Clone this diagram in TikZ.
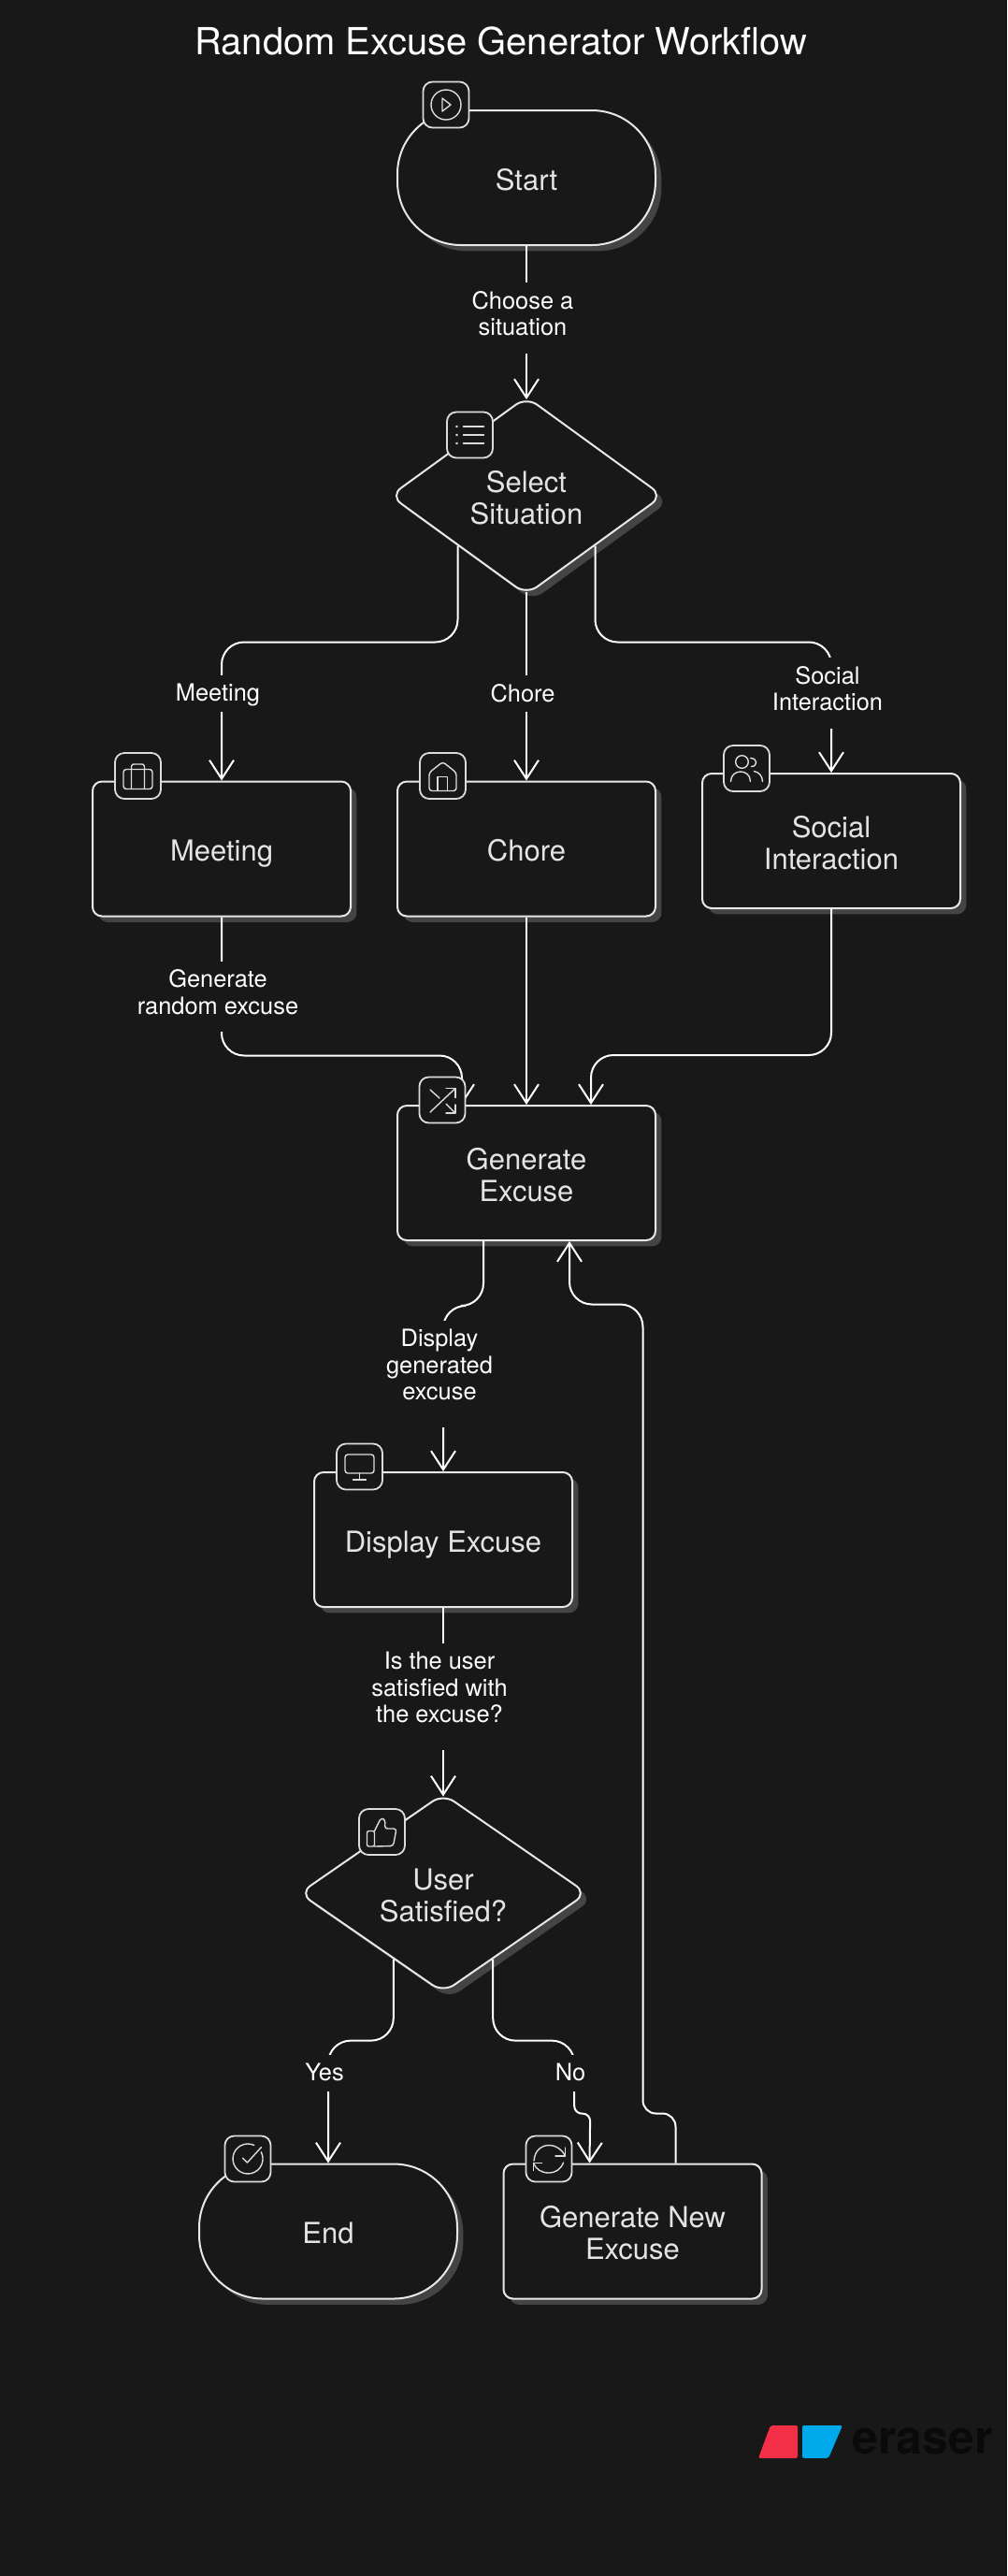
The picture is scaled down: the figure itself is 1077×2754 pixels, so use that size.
\documentclass[tikz,border=0pt]{standalone}
\usepackage{fontspec}
\setmainfont{TeX Gyre Heros}
\usetikzlibrary{arrows.meta,shapes.geometric,shadows}

\definecolor{bgdark}{HTML}{181818}
\definecolor{shadowgrey}{HTML}{444444}
\definecolor{lineoff}{HTML}{E8E8E8}
\definecolor{textoff}{HTML}{E4E4E4}
\definecolor{glyphoff}{HTML}{DCDCDC}
\definecolor{brandred}{HTML}{F22F46}
\definecolor{brandblue}{HTML}{00A9EB}
\definecolor{brandtext}{HTML}{0A0A0A}

\tikzset{
  boxshadow/.style={drop shadow={shadow xshift=3.2pt,shadow yshift=-3.2pt,fill=shadowgrey,opacity=1}},
  flowbox/.style={rectangle, draw=lineoff, line width=1pt, fill=bgdark, rounded corners=5pt, boxshadow,
    minimum width=138pt, minimum height=72pt, inner sep=0pt, align=center, text=textoff,
    text height=13pt, text depth=0pt, font=\fontsize{15.5}{17}\selectfont},
  termbox/.style={flowbox, rounded corners=34pt},
  choicebox/.style={diamond, aspect=1.38, draw=lineoff, line width=1pt, fill=bgdark, rounded corners=7pt, boxshadow,
    inner sep=0pt, align=center, text=textoff, text height=30pt, text depth=0pt, font=\fontsize{15.5}{17}\selectfont},
  twoline/.style={text height=30pt},
  iconbox/.style={rectangle, draw=glyphoff, line width=0.9pt, fill=bgdark, rounded corners=5pt,
    minimum size=24.5pt, inner sep=0pt},
  glyph/.style={draw=glyphoff, line width=0.7pt, line cap=round, line join=round},
  conn/.style={draw=white, line width=1pt, rounded corners=12pt},
  arrowconn/.style={conn, -{Straight Barb[length=10pt,width=13pt,line width=1pt]}},
  edgelbl/.style={anchor=north, fill=bgdark, inner xsep=2pt, inner ysep=4.5pt, align=center, text=white, text depth=1pt,
    font=\fontsize{12.7}{14.25}\selectfont},
}

\begin{document}
\begin{tikzpicture}[x=0.5pt, y=-0.5pt]

\useasboundingbox (0,0) rectangle (1077,2754);
\fill[bgdark] (0,0) rectangle (1077,2754);

% Title
\path (536,44) node[text=white, font=\fontsize{19.95}{24}\selectfont] (title) {Random Excuse Generator Workflow};


% Boxes
\path (563,190) node[termbox] (start) {Start};
\path (563,530) node[choicebox, minimum width=146pt, minimum height=106pt] (select) {Select\\Situation};

\path (237,907.5) node[flowbox] (meeting) {Meeting};
\path (563,907.5) node[flowbox] (chore) {Chore};
\path (889,899) node[flowbox, twoline] (social) {Social\\Interaction};

\path (563,1254) node[flowbox, twoline] (generate) {Generate\\Excuse};
\path (474,1646) node[flowbox] (display) {Display Excuse};
\path (474,2024) node[choicebox, minimum width=154pt, minimum height=106.5pt] (user) {User\\Satisfied?};

\path (351,2385.5) node[termbox] (endbox) {End};
\path (676.5,2385.5) node[flowbox, twoline] (regen) {Generate New\\Excuse};


% Connectors
\draw[arrowconn] (start.south) -- ([yshift=-2pt]select.north);

\draw[arrowconn] (select.south west) -- ++(0,103) -| (meeting.north);
\draw[arrowconn] ([yshift=2pt]select.south) -- (chore.north);
\draw[arrowconn] (select.south east) -- ++(0,103) -| (social.north);

\draw[arrowconn] (meeting.south) -- ++(0,148) -| ([xshift=-34.5pt]generate.north);
\draw[arrowconn] (chore.south) -- (generate.north);
\draw[arrowconn] (social.south) -- ++(0,156) -| ([xshift=34.5pt]generate.north);

\draw[arrowconn] ([xshift=-23pt]generate.south) -- ++(0,69) -| (display.north);
\draw[arrowconn] (display.south) -- ([yshift=-2pt]user.north);

\draw[arrowconn] (user.-127) -- ++(0,87) -| (endbox.north);
\draw[arrowconn] (user.-53) -- ++(0,87) -- ++(87,0) [rounded corners=4pt] -- ++(0,78) -- ++(17,0) -- ([xshift=-23pt]regen.north);
\draw[arrowconn, rounded corners=7pt] ([xshift=23pt]regen.north) -- ++(0,-53) -- ++(-35,0) [rounded corners=12pt] -- ++(0,-865) -| ([xshift=23pt]generate.south);


% Connector labels
\path (559,302) node[edgelbl, text depth=5pt] (lblchoose) {Choose a\\situation};
\path (233,722) node[edgelbl] (lblmeeting) {Meeting};
\path (559,722) node[edgelbl] (lblchore) {Chore};
\path (885,703) node[edgelbl, text depth=5pt] (lblsocial) {Social\\Interaction};
\path (233,1027.5) node[edgelbl, text depth=5pt] (lblrandom) {Generate\\random excuse};
\path (470,1412) node[edgelbl, text depth=10pt] (lbldisplay) {Display\\generated\\excuse};
\path (470,1757) node[edgelbl, text depth=10pt] (lblsatisfied) {Is the user\\satisfied with\\the excuse?};
\path (347,2197) node[edgelbl] (lblyes) {Yes};
\path (610,2197) node[edgelbl] (lblno) {No};


% Icons
\path (477,112) node[iconbox] (starticon) {};
\begin{scope}[shift={(starticon.center)}]
\draw[glyph] (0,0) circle [radius=8pt];
\draw[glyph] (-4,-7) -- (-4,7) -- (5,0) -- cycle;
\end{scope}

\path (502.5,465) node[iconbox] (selecticon) {};
\begin{scope}[shift={(selecticon.center)}]
\foreach \rowy in {-9,0,9} {
  \draw[glyph] (-7,\rowy) -- (15,\rowy);
  \filldraw[glyph] (-14,\rowy) circle [radius=0.3pt];
}
\end{scope}

\path (147.5,829.5) node[iconbox] (meetingicon) {};
\begin{scope}[shift={(meetingicon.center)}]
\draw[glyph, rounded corners=1.5pt] (-15.5,-7) rectangle (15.5,14);
\draw[glyph] (-7,14) -- (-7,-10) .. controls (-7,-12.5) and (-5,-12.5) .. (-4,-12.5) -- (4,-12.5) .. controls (5,-12.5) and (7,-12.5) .. (7,-10) -- (7,14);
\end{scope}

\path (473.5,829.5) node[iconbox] (choreicon) {};
\begin{scope}[shift={(choreicon.center)}]
\draw[glyph, rounded corners=1.5pt] (-14.5,-3.5) -- (0,-15) -- (14.5,-3.5) -- (14.5,16) -- (-14.5,16) -- cycle;
\draw[glyph] (-5.5,16) -- (-5.5,1) -- (5,1) -- (5,16);
\end{scope}

\path (798.5,821.5) node[iconbox] (socialicon) {};
\begin{scope}[shift={(socialicon.center)}]
\draw[glyph] (-5,-7) circle [radius=3.4pt];
\draw[glyph] (4,-11) .. controls (12,-11) and (12,-2) .. (5,-2);
\draw[glyph] (-17,14) .. controls (-17,0) and (4,0) .. (4,14);
\draw[glyph] (8,3) .. controls (13,4) and (17,8) .. (17,14);
\end{scope}

\path (473,1176) node[iconbox] (generateicon) {};
\begin{scope}[shift={(generateicon.center)}]
\draw[glyph] (-13,13) -- (14,-12.5);
\draw[glyph] (4,-12.5) -- (14,-12.5) -- (14,-2.5);
\draw[glyph] (-13,-11) -- (-3,-2);
\draw[glyph] (4,4) -- (14,14);
\draw[glyph] (4,14) -- (14,14) -- (14,5);
\end{scope}

\path (384.5,1568) node[iconbox] (displayicon) {};
\begin{scope}[shift={(displayicon.center)}]
\draw[glyph, rounded corners=1.5pt] (-15.5,-13) rectangle (15.5,7);
\draw[glyph] (0,7) -- (0,14);
\draw[glyph] (-7,14) -- (7,14);
\end{scope}

\path (408.5,1958.5) node[iconbox] (usericon) {};
\begin{scope}[shift={(usericon.center)}]
\draw[glyph, rounded corners=1pt] (-8,-1) rectangle (-16,15.5);
\draw[glyph, rounded corners=1.5pt] (-8,-1) -- (-1,-15) -- (3.5,-13) -- (3,-3.5) -- (15.5,-3.5) -- (12,15) -- (-8,15.5);
\end{scope}

\path (265,2308) node[iconbox] (endicon) {};
\begin{scope}[shift={(endicon.center)}]
\draw[glyph] (14.3,-7.3) arc [start angle=27, end angle=-295, radius=8pt];
\draw[glyph] (-5.5,-1) -- (-0.5,4) -- (14.5,-12.5);
\end{scope}

\path (587,2308) node[iconbox] (regenicon) {};
\begin{scope}[shift={(regenicon.center)}]
\draw[glyph] (-16,2) .. controls (-15,-10) and (-7,-14.5) .. (0,-14.5) .. controls (8,-14.5) and (14,-10) .. (17.5,-3);
\draw[glyph] (17.5,-12) -- (17.5,-3) -- (7,-3);
\draw[glyph] (15.5,4) .. controls (13,11) and (7,15) .. (0,15) .. controls (-8,15) and (-14,11) .. (-16.5,4.5);
\draw[glyph] (-16.5,12.5) -- (-16.5,4.5) -- (-7.5,4.5);
\end{scope}


% Brand mark
\fill[brandred, rounded corners=1pt] (824,2593) -- (853,2593) -- (853,2628) -- (811,2628) -- cycle;
\fill[brandblue, rounded corners=1pt] (858,2593) -- (901,2593) -- (886,2628) -- (858,2628) -- cycle;
\path (911,2610) node[anchor=west, inner sep=0pt, text=brandtext, font=\fontsize{25}{28}\selectfont\bfseries] (brand) {eraser};

\end{tikzpicture}
\end{document}
